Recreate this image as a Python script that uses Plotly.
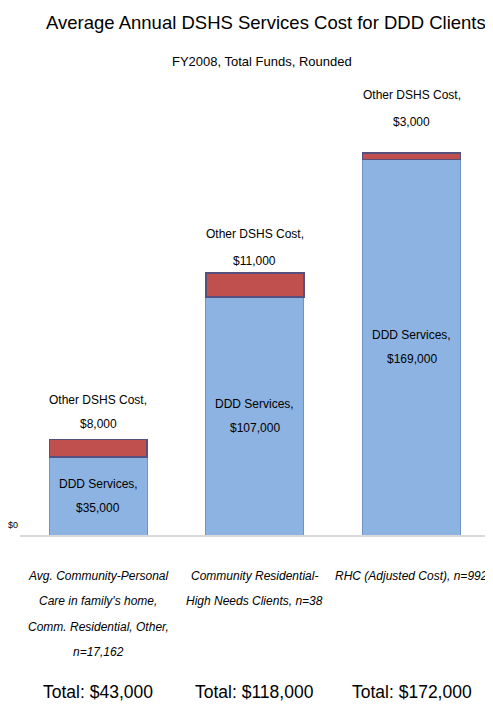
import plotly.graph_objects as go

# ---- data ----
categories = ["Avg. Community", "Community Residential", "RHC"]
category_lines = [
    ["Avg. Community-Personal", "Care in family's home,", "Comm. Residential, Other,", "n=17,162"],
    ["Community Residential-", "High Needs Clients, n=38"],
    ["RHC (Adjusted Cost), n=992"],
]
ddd_services = [35000, 107000, 169000]
other_dshs = [8000, 11000, 3000]
totals = [43000, 118000, 172000]

title_text = "Average Annual DSHS Services Cost for DDD Clients"
subtitle_text = "FY2008, Total Funds, Rounded"

FONT = "Liberation Sans, Arial, sans-serif"
BLUE = "#8DB3E2"
RED = "#C0504D"

fig = go.Figure()
fig.add_trace(go.Bar(
    x=categories, y=ddd_services, name="DDD Services",
    marker=dict(color=BLUE, line=dict(color="#6F93C4", width=1)),
    hoverinfo="skip",
))
fig.add_trace(go.Bar(
    x=categories, y=other_dshs, name="Other DSHS Cost",
    marker=dict(color=RED, line=dict(color="#55507E", width=1.5)),
    hoverinfo="skip",
))

ann = []
# title / subtitle (plot top sits 135px below window top)
ann.append(dict(text=title_text, xref="paper", yref="paper", x=0.5, y=1.0, yshift=113,
                xshift=11, yanchor="middle", showarrow=False,
                font=dict(family=FONT, size=18.5, color="#000")))
ann.append(dict(text=subtitle_text, xref="paper", yref="paper", x=0.5, y=1.0, yshift=74,
                xshift=7, yanchor="middle", showarrow=False,
                font=dict(family=FONT, size=13, color="#000")))

other_shifts = [(39, 15), (39, 12), (58, 31)]
for i, c in enumerate(categories):
    s1, s2 = other_shifts[i]
    ann.append(dict(text="Other DSHS Cost,", x=c, y=totals[i], yshift=s1, yanchor="middle",
                    showarrow=False, font=dict(family=FONT, size=12, color="#000")))
    ann.append(dict(text=f"${other_dshs[i]:,}", x=c, y=totals[i], yshift=s2, yanchor="middle",
                    showarrow=False, font=dict(family=FONT, size=12, color="#000")))
    ann.append(dict(text="DDD Services,", x=c, y=ddd_services[i] / 2, yshift=12, yanchor="middle",
                    showarrow=False, font=dict(family=FONT, size=12, color="#000")))
    ann.append(dict(text=f"${ddd_services[i]:,}", x=c, y=ddd_services[i] / 2, yshift=-12,
                    yanchor="middle", showarrow=False, font=dict(family=FONT, size=12, color="#000")))
    for j, line in enumerate(category_lines[i]):
        ann.append(dict(text=f"<i>{line}</i>", x=c, y=0, yshift=-(41 + 25.3 * j), yanchor="middle",
                        showarrow=False, font=dict(family=FONT, size=12, color="#000")))
    ann.append(dict(text=f"Total: ${totals[i]:,}", x=c, y=0, yshift=-157, yanchor="middle",
                    showarrow=False, font=dict(family=FONT, size=17.5, color="#000")))

ann.append(dict(text="$0", xref="paper", x=0, y=0, xanchor="right", yanchor="bottom",
                xshift=0, yshift=3, showarrow=False, font=dict(family=FONT, size=9, color="#000")))

# page body has an 8px margin, so the figure is shrunk by 8px and margins compensated
fig.update_layout(
    width=485, height=702,
    margin=dict(l=12, r=3, t=127, b=175),
    barmode="stack", bargap=0.375,
    showlegend=False,
    plot_bgcolor="white", paper_bgcolor="white",
    xaxis=dict(showticklabels=False, showline=True, linecolor="#D9D9D9", linewidth=2,
               showgrid=False, ticks=""),
    yaxis=dict(range=[0, 180000], showticklabels=False, showgrid=False, zeroline=False,
               showline=False, ticks=""),
    annotations=ann,
)

fig.write_html("out.html")
